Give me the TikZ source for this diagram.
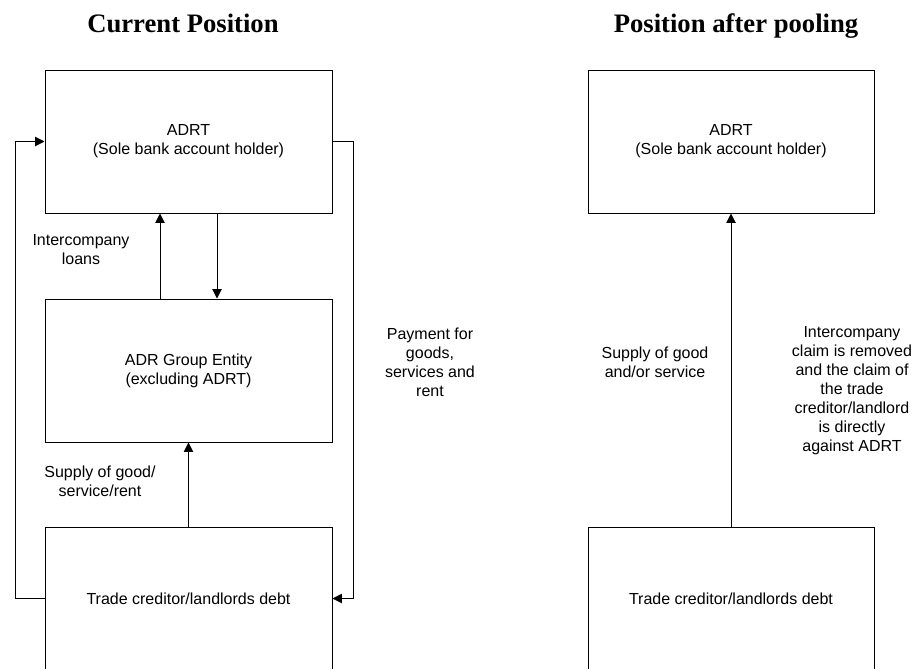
\documentclass[tikz,border=0pt]{standalone}
\usepackage{fontspec}
\setmainfont{Liberation Sans}
\newfontfamily\titlefont{Liberation Serif}
\usetikzlibrary{arrows.meta}
\begin{document}
\begin{tikzpicture}[x=0.75pt,y=-0.75pt,
  line width=0.75pt,
  box/.style={draw=black, rectangle, minimum width=215.25pt, minimum height=107.25pt, inner sep=0pt, align=center,
    font=\fontsize{12}{14.25}\selectfont},
  lbl/.style={align=center, inner sep=0pt, font=\fontsize{12}{14.25}\selectfont},
  ttl/.style={anchor=base, inner sep=0pt, font=\titlefont\bfseries\fontsize{20}{24}\selectfont},
  arr/.style={-{Triangle[length=7pt,width=7pt]}}]
\useasboundingbox (0,0) rectangle (914,668);
\clip (0,0) rectangle (914,668);

\node[ttl] (t1) at (183,32) {Current Position};
\node[ttl] (t2) at (736,32) {Position after pooling};

% left diagram
\node[box] (b1) at (188.5,141.5) {ADRT\\(Sole bank account holder)};
\node[box] (b2) at (188.5,370.5) {ADR Group Entity\\(excluding ADRT)};
\node[box] (b3) at (188.5,598.5) {Trade creditor/landlords debt};

\draw[arr] ([xshift=-21.375pt]b2.north) -- ([xshift=-21.375pt]b1.south);
\draw[arr] ([xshift=21.375pt]b1.south) -- ([xshift=21.375pt]b2.north);
\draw[arr] (b3.north) -- (b2.south);
\draw[arr] (b3.west) -- ++(-29.5,0) |- (b1.west);
\draw[arr] (b1.east) -- ++(21,0) |- (b3.east);

\node[lbl] (l1) at (81,249.5) {Intercompany\\loans};
\node[lbl] (l2) at (100,481.5) {Supply of good/\\service/rent};
\node[lbl] (l3) at (430,362.5) {Payment for\\goods,\\services and\\rent};

% right diagram
\node[box, minimum width=214.5pt] (r1) at (731,141.5) {ADRT\\(Sole bank account holder)};
\node[box, minimum width=214.5pt] (r3) at (731,598.5) {Trade creditor/landlords debt};
\draw[arr] (r3.north) -- (r1.south);

\node[lbl] (l4) at (655,362.5) {Supply of good\\and/or service};
\node[lbl] (l5) at (852,391) {Intercompany\\claim is removed\\and the claim of\\the trade\\creditor/landlord\\is directly\\against ADRT};
\end{tikzpicture}
\end{document}
